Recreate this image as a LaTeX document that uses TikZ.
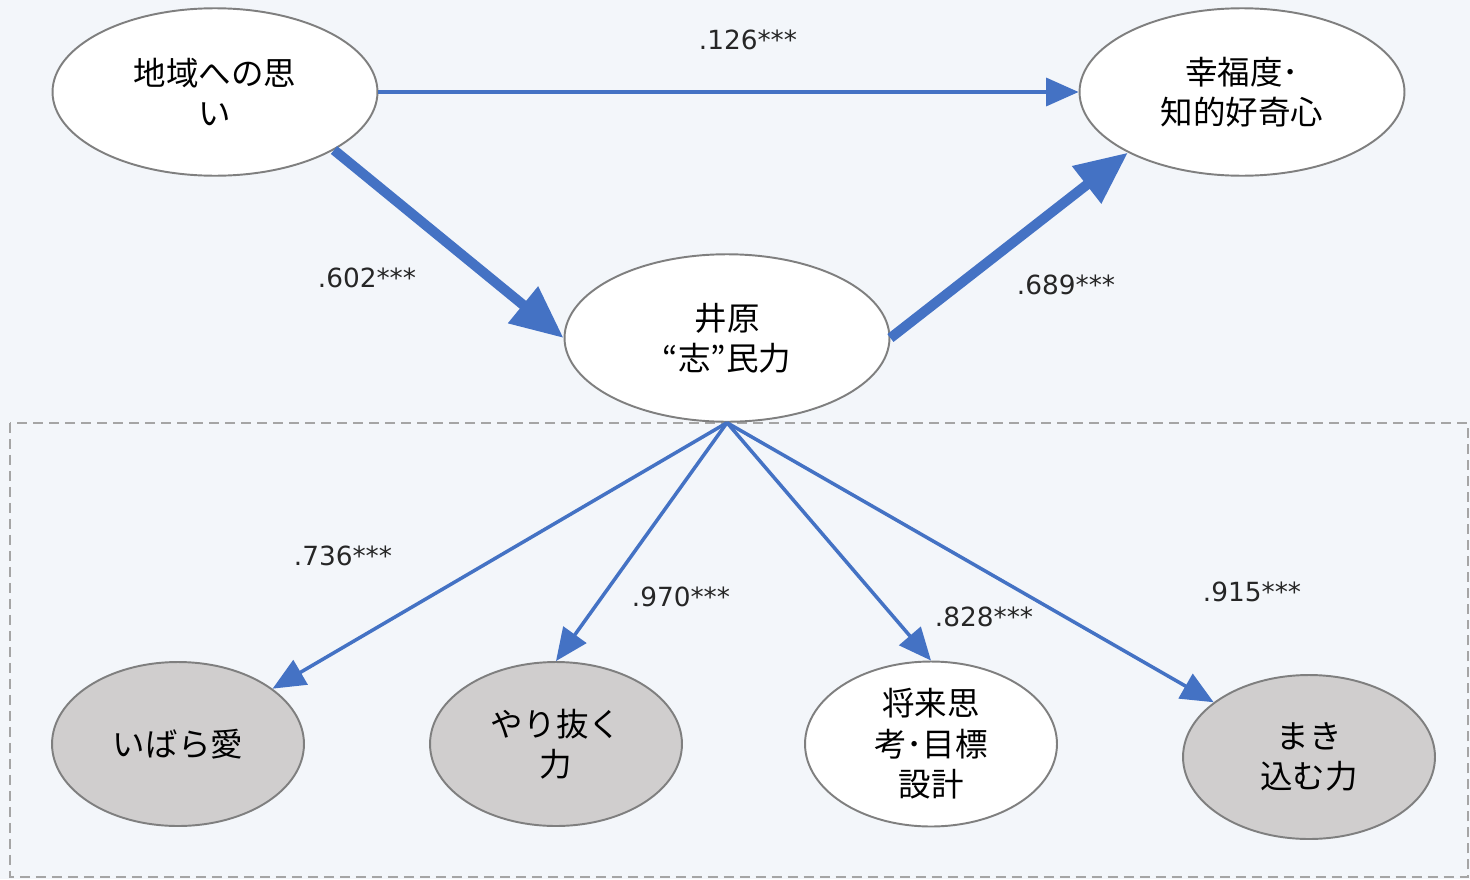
\documentclass[tikz,border=0pt]{standalone}
\usepackage{fontspec}
\newfontfamily\jpfont{Noto Sans CJK JP}
\newfontfamily\numfont{DejaVu Sans}
\usetikzlibrary{arrows.meta,positioning}
\usetikzlibrary{shapes.geometric}
\definecolor{bg_blue}{HTML}{F3F6FA}
\definecolor{path_blue}{HTML}{4472C4}
\definecolor{fill_gray}{HTML}{D0CECE}
\definecolor{border_gray}{HTML}{7F7F7F}
\definecolor{frame_gray}{HTML}{A5A5A5}
\tikzset{
        factor/.style={align=center,inner sep=0pt,ellipse,draw=border_gray,line width=1.1pt,
                font=\jpfont\fontsize{18.5}{23}\selectfont},
        % Latent factors
        node_latent/.style={factor, fill=white, minimum width=6.5cm, minimum height=3.35cm},
        % Sub-factors, white
        node_white/.style={factor, fill=white, minimum width=5.04cm, minimum height=3.3cm},
        % Sub-factors, gray
        node_gray/.style={factor, fill=fill_gray, minimum width=5.04cm, minimum height=3.28cm},
        % Thick paths
        path_thick/.style={-{Triangle[length=1.05cm,width=0.9cm]}, draw=path_blue, line width=5.7pt},
        % Thin paths
        path_thin/.style={-{Triangle[length=0.65cm,width=0.56cm]}, draw=path_blue, line width=2pt},
        % Coefficients
        node_coef/.style={font=\numfont\fontsize{15}{18}\selectfont, text=black!85},
        frame_dashed/.style={draw=frame_gray, line width=1.1pt, dash pattern=on 0.2cm off 0.12cm}
}
\begin{document}
\begin{tikzpicture}[x=0.02cm,y=-0.02cm]
    \fill[bg_blue] (0,0) rectangle (1470,879);
    \useasboundingbox (0,0) rectangle (1470,879);
    \draw[frame_dashed] (10,423) rectangle (1468,877);

    \node[node_latent] (chiiki) at (215,92) {地域への思\\い};
    \node[node_latent] (kofuku) at (1242,92) {幸福度･\\知的好奇心};
    \node[node_latent] (ihara) at (727,338) {井原\\“志”民力};

    \node[node_gray] (ibara) at (178,744) {いばら愛};
    \node[node_gray] (yarinuku) at (556,744) {やり抜く\\力};
    \node[node_white] (shorai) at (931,744) {将来思\\考･目標\\設計};
    \node[node_gray] (makikomu) at (1309,757) {まき\\込む力};

    \draw[path_thin] (chiiki.east) -- (kofuku.west);
    \draw[path_thick] (chiiki.-26) -- (ihara.west);
    \draw[path_thick] (ihara.east) -- (kofuku.208);

    \draw[path_thin] (ihara.south) -- (ibara);
    \draw[path_thin] (ihara.south) -- (yarinuku.north);
    \draw[path_thin] (ihara.south) -- (shorai.north);
    \draw[path_thin] (ihara.south) -- (makikomu);

    \node[node_coef] (c_chiiki_kofuku) at (748,40) {.126***};
    \node[node_coef] (c_chiiki_ihara) at (367,278) {.602***};
    \node[node_coef] (c_ihara_kofuku) at (1066,285) {.689***};
    \node[node_coef] (c_ibara) at (343,556) {.736***};
    \node[node_coef] (c_yarinuku) at (681,597) {.970***};
    \node[node_coef] (c_shorai) at (984,617) {.828***};
    \node[node_coef] (c_makikomu) at (1252,592) {.915***};
\end{tikzpicture}
\end{document}
